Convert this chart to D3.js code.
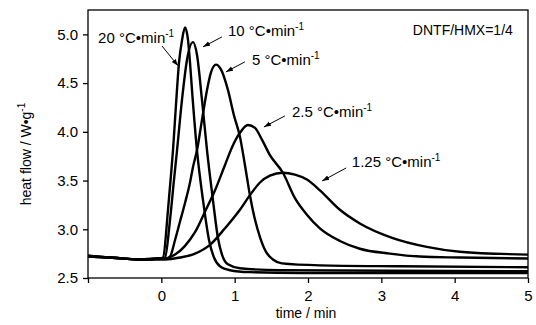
<!DOCTYPE html>
<html>
<head>
<meta charset="utf-8">
<script src="https://cdn.jsdelivr.net/npm/d3@7"></script>
<style>
  body { margin: 0; background: #fff; }
  svg { display: block; font-family: "Liberation Sans", Arial, sans-serif; }
</style>
</head>
<body>
<div id="chart"></div>
<script>
// DSC curves of DNTF/HMX=1/4 at five heating rates (time shifted to onset)
const rates = ["20", "10", "5", "2.5", "1.25"];

const t20 = [-1.0, -0.7, -0.29, -0.02, 0.023, 0.091, 0.132, 0.159, 0.2, 0.241, 0.282, 0.323, 0.364, 0.391, 0.418, 0.486, 0.568, 0.65, 0.718, 0.8, 0.936, 1.208, 1.89, 3.252, 5.0];
const hf20 = [2.72, 2.71, 2.69, 2.70, 2.71, 3.20, 3.56, 3.81, 4.28, 4.71, 4.94, 5.07, 4.94, 4.71, 4.43, 3.81, 3.30, 2.89, 2.71, 2.62, 2.58, 2.56, 2.55, 2.55, 2.55];

const t10 = [-1.0, -0.7, -0.29, -0.02, 0.05, 0.119, 0.173, 0.214, 0.282, 0.35, 0.432, 0.486, 0.554, 0.623, 0.704, 0.772, 0.827, 0.908, 1.072, 1.617, 5.0];
const hf10 = [2.73, 2.71, 2.69, 2.70, 2.71, 3.10, 3.51, 3.81, 4.33, 4.74, 4.92, 4.79, 4.33, 3.81, 3.30, 2.91, 2.74, 2.64, 2.60, 2.58, 2.57];

const t5 = [-1.0, -0.7, -0.29, -0.02, 0.078, 0.119, 0.187, 0.255, 0.323, 0.391, 0.432, 0.486, 0.554, 0.623, 0.677, 0.745, 0.813, 0.908, 0.99, 1.072, 1.14, 1.208, 1.277, 1.345, 1.426, 1.522, 1.644, 2.162, 3.252, 5.0];
const hf5 = [2.72, 2.71, 2.69, 2.70, 2.70, 2.72, 2.89, 3.08, 3.27, 3.48, 3.64, 3.81, 4.12, 4.43, 4.61, 4.69, 4.64, 4.43, 4.17, 3.95, 3.66, 3.35, 3.10, 2.92, 2.77, 2.69, 2.65, 2.63, 2.62, 2.61];

const t2_5 = [-1.0, -0.7, -0.29, -0.02, 0.05, 0.187, 0.323, 0.459, 0.595, 0.732, 0.868, 0.963, 1.072, 1.181, 1.277, 1.372, 1.481, 1.658, 1.822, 1.985, 2.162, 2.435, 2.707, 3.116, 3.525, 4.07, 5.0];
const hf2_5 = [2.72, 2.71, 2.69, 2.70, 2.70, 2.74, 2.83, 2.97, 3.18, 3.40, 3.66, 3.84, 3.99, 4.07, 4.04, 3.92, 3.76, 3.58, 3.32, 3.15, 3.01, 2.88, 2.80, 2.75, 2.72, 2.71, 2.70];

const t1_25 = [-1.0, -0.7, -0.29, -0.02, 0.05, 0.255, 0.459, 0.663, 0.868, 1.072, 1.208, 1.345, 1.481, 1.658, 1.822, 1.985, 2.162, 2.435, 2.707, 3.157, 3.62, 4.07, 5.0];
const hf1_25 = [2.73, 2.71, 2.69, 2.69, 2.69, 2.71, 2.75, 2.84, 3.01, 3.20, 3.35, 3.48, 3.55, 3.58, 3.56, 3.51, 3.40, 3.20, 3.06, 2.91, 2.82, 2.77, 2.74];

const times = [t20, t10, t5, t2_5, t1_25];
const flows = [hf20, hf10, hf5, hf2_5, hf1_25];

const xTicks = [-1, 0, 1, 2, 3, 4, 5];
const yTicks = [2.5, 3.0, 3.5, 4.0, 4.5, 5.0];

// label anchor [t, hf] and arrow from/to, in data units
const labelAt = [[-0.862, 4.913], [0.909, 4.985], [1.236, 4.687], [1.781, 4.153], [2.598, 3.64]];
const arrowFrom = [[0.01, 4.88], [0.827, 4.974], [1.14, 4.718], [1.685, 4.163], [2.52, 3.629]];
const arrowTo = [[0.228, 4.677], [0.568, 4.872], [0.881, 4.615], [1.399, 4.05], [2.193, 3.496]];

const W = 536, H = 325;
const margin = {top: 10, right: 8, bottom: 47, left: 88};
const w = W - margin.left - margin.right;
const h = H - margin.top - margin.bottom;

const svg = d3.select("#chart").append("svg")
  .attr("width", W).attr("height", H);

svg.append("defs").append("marker")
  .attr("id", "head")
  .attr("viewBox", "0 0 10 10")
  .attr("refX", 10).attr("refY", 5)
  .attr("markerWidth", 7).attr("markerHeight", 7)
  .attr("markerUnits", "userSpaceOnUse")
  .attr("orient", "auto")
  .append("path").attr("d", "M0,1.5L10,5L0,8.5Z").attr("fill", "#000");

const g = svg.append("g")
  .attr("transform", "translate(" + margin.left + "," + margin.top + ")");

const x = d3.scaleLinear().domain([-1, 5]).range([0, w]);
const y = d3.scaleLinear().domain([2.5, 5.25]).range([h, 0]);

// axes
const xAxis = g.append("g")
  .attr("transform", "translate(0," + h + ")")
  .call(d3.axisBottom(x).tickValues(xTicks).tickSize(5).tickPadding(4)
    .tickFormat(d => d < 0 ? "" : d3.format("d")(d)));

const yAxis = g.append("g")
  .call(d3.axisLeft(y).tickValues(yTicks).tickSize(5).tickPadding(5)
    .tickFormat(d3.format(".1f")));

[xAxis, yAxis].forEach(a => {
  a.select(".domain").remove();
  a.selectAll("line").attr("stroke", "#000").attr("stroke-width", 1.3);
  a.selectAll("text").attr("fill", "#000").style("font-size", "15px")
    .style("font-family", "'Liberation Sans', Arial, sans-serif");
});
xAxis.selectAll("text").attr("dy", "0.95em");

g.append("rect")
  .attr("width", w).attr("height", h)
  .attr("fill", "none").attr("stroke", "#000").attr("stroke-width", 1.3);

// curves
const line = d3.line()
  .x(d => x(d[0])).y(d => y(d[1]))
  .curve(d3.curveMonotoneX);

times.forEach((ts, i) => {
  g.append("path")
    .datum(ts.map((t, j) => [t, flows[i][j]]))
    .attr("fill", "none")
    .attr("stroke", "#000")
    .attr("stroke-width", 2.4)
    .attr("stroke-linejoin", "round")
    .attr("d", line);
});

// rate labels with arrows
rates.forEach((r, i) => {
  const tx = g.append("text")
    .attr("x", x(labelAt[i][0])).attr("y", y(labelAt[i][1]))
    .style("font-size", "15px").attr("fill", "#000");
  tx.append("tspan").text(r + " \u00b0C");
  tx.append("tspan").text("\u2022");
  tx.append("tspan").text("min");
  tx.append("tspan").attr("dy", -6).style("font-size", "10px").text("-1");

  g.append("line")
    .attr("x1", x(arrowFrom[i][0])).attr("y1", y(arrowFrom[i][1]))
    .attr("x2", x(arrowTo[i][0])).attr("y2", y(arrowTo[i][1]))
    .attr("stroke", "#000").attr("stroke-width", 1)
    .attr("marker-end", "url(#head)");
});

g.append("text")
  .attr("x", x(3.43)).attr("y", y(4.995))
  .style("font-size", "14px").attr("fill", "#000")
  .text("DNTF/HMX=1/4");

// axis titles
svg.append("text")
  .attr("x", margin.left + w / 2 - 2).attr("y", 318)
  .attr("text-anchor", "middle").style("font-size", "14px")
  .text("time / min");

const yl = svg.append("text")
  .attr("transform", "translate(31,154) rotate(-90)")
  .attr("text-anchor", "middle").style("font-size", "14px");
yl.append("tspan").text("heat flow / W\u2022g");
yl.append("tspan").attr("dy", -6).style("font-size", "10px").text("-1");
</script>
</body>
</html>
